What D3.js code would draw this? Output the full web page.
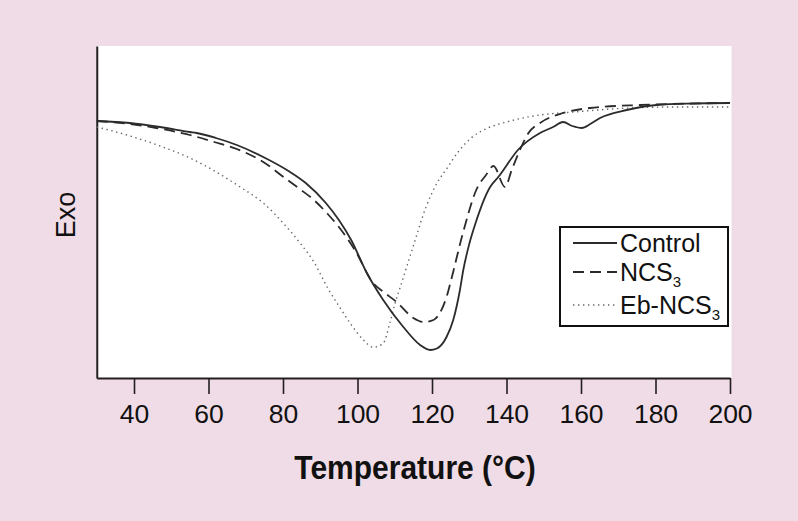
<!DOCTYPE html>
<html>
<head>
<meta charset="utf-8">
<script src="https://cdn.jsdelivr.net/npm/d3@7"></script>
<style>
  html, body { margin: 0; padding: 0; background: #efdce6; }
  svg { display: block; }
  text { font-family: "Liberation Sans", Arial, Helvetica, sans-serif; fill: #111; }
</style>
</head>
<body>
<svg id="chart" width="798" height="521"></svg>
<script>
// ---- data (temperature °C, heat flow in arbitrary units, exo up) ----
const xTicks = [40, 60, 80, 100, 120, 140, 160, 180, 200];
const xDomain = [30, 200];
const yDomain = [0, 33.2];

const controlData = [
  [30, 25.7], [38.9, 25.5], [47, 25.1], [55, 24.6], [56.8, 24.5], [62, 24.0],
  [67.6, 23.3], [74.7, 22.1], [81.9, 20.6], [86.1, 19.5], [91.5, 17.5], [95, 15.8],
  [98.3, 13.8], [102.5, 10.5], [106.9, 7.8], [112.3, 5.1], [116.8, 3.3], [119.5, 2.8],
  [121.3, 2.95], [123.9, 4.1], [125.7, 5.8], [127.5, 8.8], [128.4, 10.8], [130, 13.4],
  [131.7, 15.5], [135.6, 19.1], [137.8, 20.1], [143.3, 22.9], [149, 24.5], [152.5, 25.1],
  [155.2, 25.6], [157.7, 25.2], [160.2, 25.0], [162.5, 25.4], [165.1, 26.0], [172.3, 26.8],
  [180.3, 27.3], [190, 27.45], [200, 27.5]
];

const ncs3Data = [
  [30, 25.7], [38, 25.45], [46, 25.0], [55, 24.3], [61.5, 23.6], [67.6, 22.9],
  [74.7, 21.6], [80.5, 20.0], [84.5, 18.9], [88.3, 17.8], [92, 16.4], [95, 15.1],
  [99.3, 12.8], [104.2, 9.5], [107, 8.6], [110.5, 7.6], [115, 6.0], [117.7, 5.6],
  [120.4, 5.8], [122.1, 6.5], [123.9, 8.1], [125, 9.6], [128.3, 14.5], [132, 18.9],
  [134.5, 20.3], [136.5, 21.2], [139.6, 19.1], [141.4, 20.8], [143.6, 22.8], [145.9, 24.5],
  [149, 25.5], [155.2, 26.5], [162.4, 27.0], [175.8, 27.3], [200, 27.5]
];

const ebNcs3Data = [
  [30, 25.1], [39, 24.2], [47, 23.2], [55, 22.0], [63, 20.4], [68.5, 19.1],
  [75, 17.4], [80.5, 15.3], [85, 13.3], [88.3, 11.6], [92, 9.0], [95, 7.2],
  [98, 5.5], [101.6, 3.8], [104.2, 3.07], [106.9, 3.47], [108.7, 5.5], [110.1, 7.5],
  [111.4, 9.0], [114.9, 13.1], [118.4, 17.1], [121.5, 19.6], [123.9, 20.9], [127, 22.6],
  [130.5, 24.0], [135, 25.0], [140, 25.6], [149, 26.3], [158, 26.6], [172.9, 27.0],
  [185, 27.1], [200, 27.1]
];

const seriesNames = ["Control", "NCS", "Eb-NCS"];
const seriesSubs = ["", "3", "3"];
const xTitle = "Temperature (°C)";
const yTitle = "Exo";

// ---- drawing ----
const svg = d3.select("#chart");
const W = 798, H = 521;
const plot = { left: 96.75, right: 730, top: 46, bottom: 378 };

svg.append("rect").attr("x", 0).attr("y", 0).attr("width", W).attr("height", H).attr("fill", "#efdce6");

const x = d3.scaleLinear().domain(xDomain).range([plot.left, plot.right]);
const y = d3.scaleLinear().domain(yDomain).range([plot.bottom, plot.top]);

// white plotting area
svg.append("rect")
  .attr("x", plot.left).attr("y", plot.top)
  .attr("width", plot.right + 1.5 - plot.left).attr("height", plot.bottom - plot.top)
  .attr("fill", "#ffffff");

// x axis
const xAxis = d3.axisBottom(x).tickValues(xTicks).tickSize(16).tickSizeOuter(0).tickPadding(10);
const gx = svg.append("g").attr("transform", `translate(0,${plot.bottom})`).call(xAxis);
gx.select(".domain").attr("stroke", "#231f20").attr("stroke-width", 2);
gx.selectAll(".tick line").attr("stroke", "#231f20").attr("stroke-width", 1.6);
gx.selectAll(".tick text")
  .attr("font-size", 26.5)
  .attr("font-family", "'Liberation Sans', Arial, sans-serif")
  .attr("fill", "#111")
  .attr("dy", "0.71em");

// y axis line (no ticks)
const yAxis = d3.axisLeft(y).tickValues([]).tickSizeOuter(0);
const gy = svg.append("g").attr("transform", `translate(${plot.left},0)`).call(yAxis);
gy.select(".domain").attr("stroke", "#231f20").attr("stroke-width", 2);

// lines
const line = d3.line().x(d => x(d[0])).y(d => y(d[1])).curve(d3.curveMonotoneX);

svg.append("path").datum(ebNcs3Data).attr("d", line)
  .attr("fill", "none").attr("stroke", "#666").attr("stroke-width", 1.4)
  .attr("stroke-dasharray", "1.4,3.6");
svg.append("path").datum(ncs3Data).attr("d", line)
  .attr("fill", "none").attr("stroke", "#2b2b2b").attr("stroke-width", 1.8)
  .attr("stroke-dasharray", "11,6");
svg.append("path").datum(controlData).attr("d", line)
  .attr("fill", "none").attr("stroke", "#2b2b2b").attr("stroke-width", 1.8);

// axis titles
svg.append("text")
  .attr("transform", "translate(415,479) scale(1,1.1)")
  .attr("text-anchor", "middle")
  .attr("font-size", 30).attr("font-weight", "bold")
  .text(xTitle);

svg.append("text")
  .attr("transform", "translate(75,215) rotate(-90)")
  .attr("text-anchor", "middle")
  .attr("font-size", 27)
  .text(yTitle);

// legend
const lg = svg.append("g");
lg.append("rect").attr("x", 560).attr("y", 227).attr("width", 168).attr("height", 99)
  .attr("fill", "#fff").attr("stroke", "#111").attr("stroke-width", 2);
const rowsY = [243, 272, 305];
const styles = [
  { stroke: "#2b2b2b", w: 1.8, dash: null },
  { stroke: "#2b2b2b", w: 1.8, dash: "11,6" },
  { stroke: "#666", w: 1.4, dash: "1.4,3.6" }
];
seriesNames.forEach((name, i) => {
  const ln = lg.append("line").attr("x1", 573).attr("x2", 617)
    .attr("y1", rowsY[i]).attr("y2", rowsY[i])
    .attr("stroke", styles[i].stroke).attr("stroke-width", styles[i].w);
  if (styles[i].dash) ln.attr("stroke-dasharray", styles[i].dash);
  const t = lg.append("text").attr("x", 620).attr("y", rowsY[i] + 9).attr("font-size", 25).text(name);
  if (seriesSubs[i]) {
    t.append("tspan").attr("font-size", 15).attr("dy", 6).text(seriesSubs[i]);
  }
});
</script>
</body>
</html>
